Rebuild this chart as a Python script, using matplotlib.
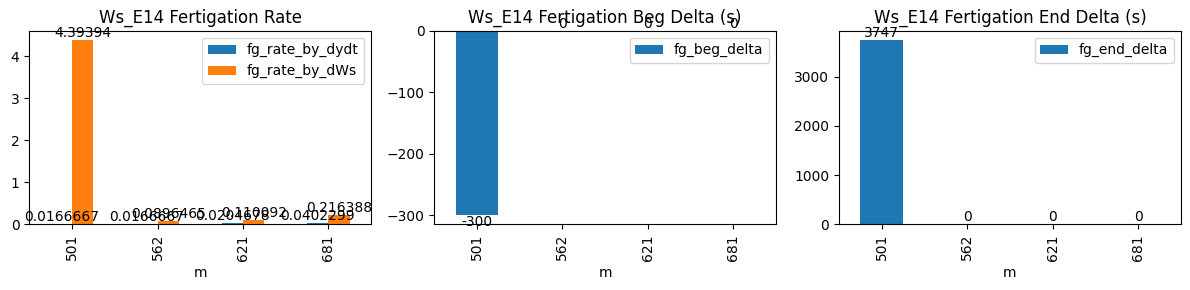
import pandas as pd
from matplotlib import pyplot as plt

m = [501, 562, 621, 681]
fg_rate_by_dydt = [0.0166667, 0.0166667, 0.0204678, 0.0402299]
fg_rate_by_dWs = [4.39394, 0.0896465, 0.110092, 0.216388]
fg_beg_delta = [-300, 0, 0, 0]
fg_end_delta = [3747, 0, 0, 0]

df = pd.DataFrame({
    "m": m,
    "fg_rate_by_dydt": fg_rate_by_dydt,
    "fg_rate_by_dWs": fg_rate_by_dWs,
    "fg_beg_delta": fg_beg_delta,
    "fg_end_delta": fg_end_delta,
}).set_index("m")

fig, axes = plt.subplots(1, 3, figsize=(11.9, 2.9), dpi=100)

df[["fg_rate_by_dydt", "fg_rate_by_dWs"]].plot.bar(ax=axes[0], title="Ws_E14 Fertigation Rate")
df[["fg_beg_delta"]].plot.bar(ax=axes[1], title="Ws_E14 Fertigation Beg Delta (s)")
df[["fg_end_delta"]].plot.bar(ax=axes[2], title="Ws_E14 Fertigation End Delta (s)")

for ax in axes:
    for c in ax.containers:
        ax.bar_label(c)

fig.subplots_adjust(left=0.0246, right=0.9924, bottom=0.2266, top=0.894, wspace=0.184)
plt.savefig("out.png")
